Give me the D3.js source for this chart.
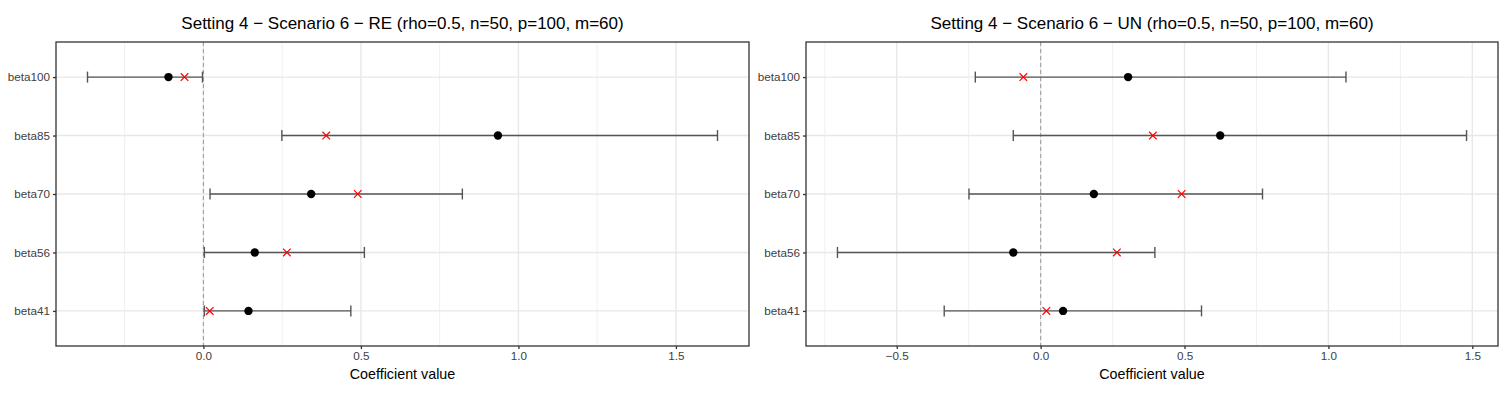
<!DOCTYPE html>
<html lang="en">
<head>
    <meta charset="utf-8">
    <title>Coefficient intervals</title>
    <script src="https://cdn.jsdelivr.net/npm/d3@7"></script>
</head>
<style>
    body {
        margin: 0;
        padding: 0;
        background-color: #ffffff;
        font-family: "Liberation Sans", Arial, sans-serif;
    }
    .panel-title {
        font-size: 17px;
        text-anchor: middle;
        fill: #000;
    }
    .axis-title {
        font-size: 14.3px;
        text-anchor: middle;
        fill: #000;
    }
    .tick-label {
        font-size: 11.7px;
        fill: #404040;
    }
</style>
<body>
    <svg width="1504" height="400" id="chart"></svg>
    <script>
        // categories from bottom to top
        var categories = ["beta41", "beta56", "beta70", "beta85", "beta100"];
        var trueValues = [0.02, 0.265, 0.49, 0.39, -0.06];

        var reEstimate = [0.143, 0.163, 0.342, 0.935, -0.111];
        var reLower = [0.003, 0.003, 0.021, 0.249, -0.368];
        var reUpper = [0.468, 0.511, 0.822, 1.632, -0.003];

        var unEstimate = [0.078, -0.095, 0.185, 0.624, 0.304];
        var unLower = [-0.335, -0.706, -0.249, -0.095, -0.227];
        var unUpper = [0.559, 0.397, 0.771, 1.480, 1.061];

        var reTicks = [0, 0.5, 1.0, 1.5];
        var unTicks = [-0.5, 0, 0.5, 1.0, 1.5];

        var svg = d3.select("#chart");

        function drawPanel(opts) {
            var left = opts.left, right = opts.right, top = 42, bottom = 346;
            var rows = categories.map(function (c, i) {
                return { cat: c, est: opts.est[i], lo: opts.lower[i], hi: opts.upper[i], tv: trueValues[i] };
            });

            var lo = d3.min(rows, function (d) { return Math.min(d.lo, d.est, d.tv); });
            var hi = d3.max(rows, function (d) { return Math.max(d.hi, d.est, d.tv); });
            var pad = (hi - lo) * 0.05;

            var x = d3.scaleLinear().domain([lo - pad, hi + pad]).range([left, right]);
            var y = d3.scalePoint().domain(categories).range([bottom, top]).padding(0.6);

            var g = svg.append("g");

            // minor grid, halfway between the major ticks
            var minor = [];
            for (var i = 0; i < opts.ticks.length; i++) {
                minor.push(opts.ticks[i] - 0.25);
            }
            minor.push(opts.ticks[opts.ticks.length - 1] + 0.25);
            minor = minor.filter(function (v) { return x(v) > left && x(v) < right; });

            g.selectAll(".minor").data(minor).enter().append("line")
                .attr("x1", function (d) { return x(d); })
                .attr("x2", function (d) { return x(d); })
                .attr("y1", top).attr("y2", bottom)
                .attr("stroke", "#f0f0f0").attr("stroke-width", 1);

            g.selectAll(".major").data(opts.ticks).enter().append("line")
                .attr("x1", function (d) { return x(d); })
                .attr("x2", function (d) { return x(d); })
                .attr("y1", top).attr("y2", bottom)
                .attr("stroke", "#e8e8e8").attr("stroke-width", 1.4);

            g.selectAll(".hgrid").data(categories).enter().append("line")
                .attr("x1", left).attr("x2", right)
                .attr("y1", function (d) { return y(d); })
                .attr("y2", function (d) { return y(d); })
                .attr("stroke", "#e8e8e8").attr("stroke-width", 1.4);

            // reference line at zero
            g.append("line")
                .attr("x1", x(0)).attr("x2", x(0))
                .attr("y1", top).attr("y2", bottom)
                .attr("stroke", "#a0a0a0").attr("stroke-width", 1.1)
                .attr("stroke-dasharray", "4,3");

            // error bars
            var bars = g.selectAll(".bar").data(rows).enter().append("g");
            bars.append("line")
                .attr("x1", function (d) { return x(d.lo); })
                .attr("x2", function (d) { return x(d.hi); })
                .attr("y1", function (d) { return y(d.cat); })
                .attr("y2", function (d) { return y(d.cat); })
                .attr("stroke", "#555555").attr("stroke-width", 1.4);
            bars.append("line")
                .attr("x1", function (d) { return x(d.lo); })
                .attr("x2", function (d) { return x(d.lo); })
                .attr("y1", function (d) { return y(d.cat) - 5.5; })
                .attr("y2", function (d) { return y(d.cat) + 5.5; })
                .attr("stroke", "#555555").attr("stroke-width", 1.4);
            bars.append("line")
                .attr("x1", function (d) { return x(d.hi); })
                .attr("x2", function (d) { return x(d.hi); })
                .attr("y1", function (d) { return y(d.cat) - 5.5; })
                .attr("y2", function (d) { return y(d.cat) + 5.5; })
                .attr("stroke", "#555555").attr("stroke-width", 1.4);

            // estimates
            bars.append("circle")
                .attr("cx", function (d) { return x(d.est); })
                .attr("cy", function (d) { return y(d.cat); })
                .attr("r", 4.2)
                .attr("fill", "#000");

            // true values
            bars.append("path")
                .attr("d", function (d) {
                    var cx = x(d.tv), cy = y(d.cat), s = 3.8;
                    return "M" + (cx - s) + "," + (cy - s) + "L" + (cx + s) + "," + (cy + s) +
                        "M" + (cx - s) + "," + (cy + s) + "L" + (cx + s) + "," + (cy - s);
                })
                .attr("stroke", "#ff0000").attr("stroke-width", 1.2).attr("fill", "none");

            // panel border
            g.append("rect")
                .attr("x", left).attr("y", top)
                .attr("width", right - left).attr("height", bottom - top)
                .attr("fill", "none").attr("stroke", "#333333").attr("stroke-width", 1.3);

            // axes
            var xAxis = d3.axisBottom(x).tickValues(opts.ticks).tickFormat(d3.format(".1f")).tickSize(3).tickPadding(3);
            var xg = g.append("g").attr("transform", "translate(0," + bottom + ")").call(xAxis);
            xg.select(".domain").remove();
            xg.selectAll(".tick line").attr("stroke", "#333333").attr("stroke-width", 1.3);
            xg.selectAll(".tick text").attr("class", "tick-label").attr("font-family", null).attr("font-size", null);

            var yAxis = d3.axisLeft(y).tickSize(3).tickPadding(3);
            var yg = g.append("g").attr("transform", "translate(" + left + ",0)").call(yAxis);
            yg.select(".domain").remove();
            yg.selectAll(".tick line").attr("stroke", "#333333").attr("stroke-width", 1.3);
            yg.selectAll(".tick text").attr("class", "tick-label").attr("font-family", null).attr("font-size", null);

            // titles
            svg.append("text")
                .attr("class", "panel-title")
                .attr("x", (left + right) / 2)
                .attr("y", 29)
                .text(opts.title);

            svg.append("text")
                .attr("class", "axis-title")
                .attr("x", (left + right) / 2)
                .attr("y", 379)
                .text("Coefficient value");
        }

        drawPanel({
            left: 56, right: 749,
            est: reEstimate, lower: reLower, upper: reUpper,
            ticks: reTicks,
            title: "Setting 4 \u2212 Scenario 6 \u2212 RE (rho=0.5, n=50, p=100, m=60)"
        });

        drawPanel({
            left: 806, right: 1498,
            est: unEstimate, lower: unLower, upper: unUpper,
            ticks: unTicks,
            title: "Setting 4 \u2212 Scenario 6 \u2212 UN (rho=0.5, n=50, p=100, m=60)"
        });
    </script>
</body>
</html>
